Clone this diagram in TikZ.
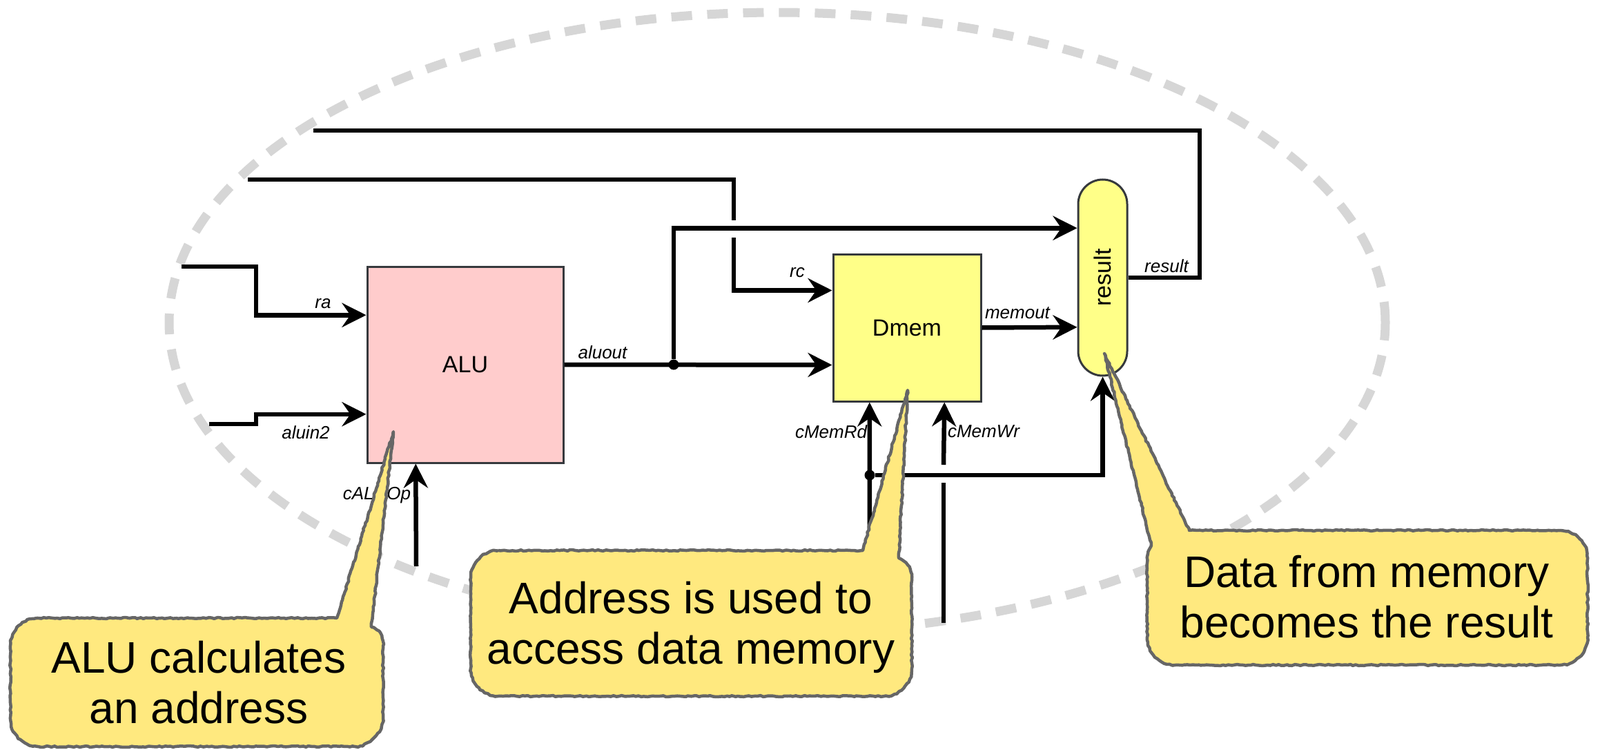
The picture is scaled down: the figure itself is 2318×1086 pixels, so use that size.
\documentclass[tikz,border=0pt]{standalone}
\usepackage{fontspec}
\setmainfont{Liberation Sans}
\usetikzlibrary{arrows.meta,calc,decorations.pathmorphing}
\definecolor{alufill}{HTML}{FFCCCC}
\definecolor{memfill}{HTML}{FFFF88}
\definecolor{boxline}{HTML}{36393D}
\definecolor{callfill}{HTML}{FFE97F}
\definecolor{callline}{HTML}{666666}
\definecolor{ringgray}{HTML}{D6D6D6}
\tikzset{
  wire/.style={line width=6.5pt, draw=black},
  arr/.style={-{Stealth[length=35pt,width=35pt,inset=12pt]}},
  unitbox/.style={draw=boxline, line width=3pt, inner sep=0pt, font=\fontsize{34}{40}\selectfont},
  sig/.style={font=\fontsize{26}{30}\selectfont\itshape, inner sep=0pt},
  jdot/.style={circle, fill=black, minimum size=15pt, inner sep=0pt},
  ringline/.style={draw=ringgray, line width=13pt, dash pattern=on 30pt off 22pt},
  callout/.style={fill=callfill, draw=callline, line width=4.5pt, line join=round,
    decorate, decoration={random steps, segment length=4pt, amplitude=0.9pt}},
  calltext/.style={font=\fontsize{64}{73}\selectfont, align=center, inner sep=0pt},
}
\begin{document}
\begin{tikzpicture}[x=1pt,y=-1pt]
\useasboundingbox (0,0) rectangle (2318,1086);

% dashed boundary
\draw[ringline] (1126,467) ellipse [x radius=881pt, y radius=449pt];

% units
\node[unitbox, fill=alufill, minimum width=284pt, minimum height=284pt] (ALU) at (674,528) {ALU};
\node[unitbox, fill=memfill, minimum width=214pt, minimum height=213pt] (Dmem) at (1314,474.5) {Dmem};
\node[unitbox, fill=memfill, minimum width=71pt, minimum height=284pt, rounded corners=35.5pt] (res) at (1597.5,402) {\rotatebox{90}{result}};

% named points
\coordinate (fbL) at (454,189);
\coordinate (fbR) at (1738,189);
\coordinate (rcL) at (359,260);
\coordinate (rcA) at (1063,319);
\coordinate (rcB) at (1063,344);
\coordinate (raL) at (263,386);
\coordinate (raK) at (371,386);
\coordinate (inL) at (303,614);
\coordinate (inK) at (371,614);
\coordinate (opB) at (603,820);
\coordinate (rdB) at (1260,880);
\coordinate (wrB) at (1367,902);
\coordinate (wrA) at (1367,699);
\coordinate (wrC) at (1367,673);

\coordinate (aluA) at ($(ALU.north west)!0.25!(ALU.south west)$);
\coordinate (aluB) at ($(ALU.north west)!0.75!(ALU.south west)$);
\coordinate (aluC) at ($(ALU.south west)!0.25!(ALU.south east)$);
\coordinate (memA) at ($(Dmem.north west)!0.25!(Dmem.south west)$);
\coordinate (memB) at ($(Dmem.north west)!0.75!(Dmem.south west)$);
\coordinate (memRd) at ($(Dmem.south west)!0.25!(Dmem.south east)$);
\coordinate (memWr) at ($(Dmem.south west)!0.75!(Dmem.south east)$);
\coordinate (resA) at ($(res.north west)!0.25!(res.south west)$);
\coordinate (resB) at ($(res.north west)!0.75!(res.south west)$);

% wires
\draw[wire] (res.east) -| (fbR) -- (fbL);
\draw[wire] (rcL) -| (rcA);
\draw[wire,arr] (rcB) |- (memA);
\draw[wire,arr] (raL) -- (raK) |- (aluA);
\draw[wire,arr] (inL) -- (inK) |- (aluB);
\draw[wire,arr] (ALU.east) -- (memB);
\node[jdot] (J1) at (976,528) {};
\draw[wire,arr] (J1) |- (resA);
\draw[wire,arr] (Dmem.east) -- (resB);
\draw[wire,arr] (opB) -- (aluC);
\draw[wire,arr] (rdB) -- (memRd);
\node[jdot] (J2) at (1260,688) {};
\draw[wire,arr] (J2) -| (res.south);
\draw[wire] (wrB) -- (wrA);
\draw[wire,arr] (wrC) -- (memWr);

% signal labels
\node[sig] (lra) at (468,440) {ra};
\node[sig] (lin) at (443,626) {aluin2};
\node[sig] (lout) at (873,510) {aluout};
\node[sig] (lrc) at (1155,395) {rc};
\node[sig] (lmem) at (1474,453) {memout};
\node[sig] (lres) at (1690,385) {result};
\node[sig] (lrd) at (1204,625) {cMemRd};
\node[sig] (lwr) at (1425,625) {cMemWr};
\node[sig] (lop) at (546,717) {cALUOp};

% callouts
\draw[callout] (55,895) -- (488,895) -- (570,625) -- (538,908)
  .. controls (550,912) and (555,918) .. (555,935) -- (555,1040)
  .. controls (555,1062) and (533,1081) .. (515,1081) -- (55,1081)
  .. controls (33,1081) and (15,1062) .. (15,1040) -- (15,935)
  .. controls (15,913) and (33,895) .. (55,895) -- cycle;
\node[calltext] (c1) at (288,988) {ALU calculates\\an address};

\draw[callout] (722,797) -- (1250,797) -- (1315,565) -- (1302,808)
  .. controls (1314,812) and (1321,822) .. (1321,840) -- (1321,968)
  .. controls (1321,990) and (1303,1008) .. (1281,1008) -- (722,1008)
  .. controls (700,1008) and (682,990) .. (682,968) -- (682,837)
  .. controls (682,815) and (700,797) .. (722,797) -- cycle;
\node[calltext] (c2) at (1001,908) {Address is used to\\access data memory};

\draw[callout] (1723,768) -- (2260,768)
  .. controls (2282,768) and (2300,786) .. (2300,808) -- (2300,923)
  .. controls (2300,945) and (2282,963) .. (2260,963) -- (1702,963)
  .. controls (1680,963) and (1662,945) .. (1662,923) -- (1662,815)
  .. controls (1662,803) and (1664,795) .. (1668,790) -- (1600,512) -- cycle;
\node[calltext] (c3) at (1980,864) {Data from memory\\becomes the result};
\end{tikzpicture}
\end{document}
